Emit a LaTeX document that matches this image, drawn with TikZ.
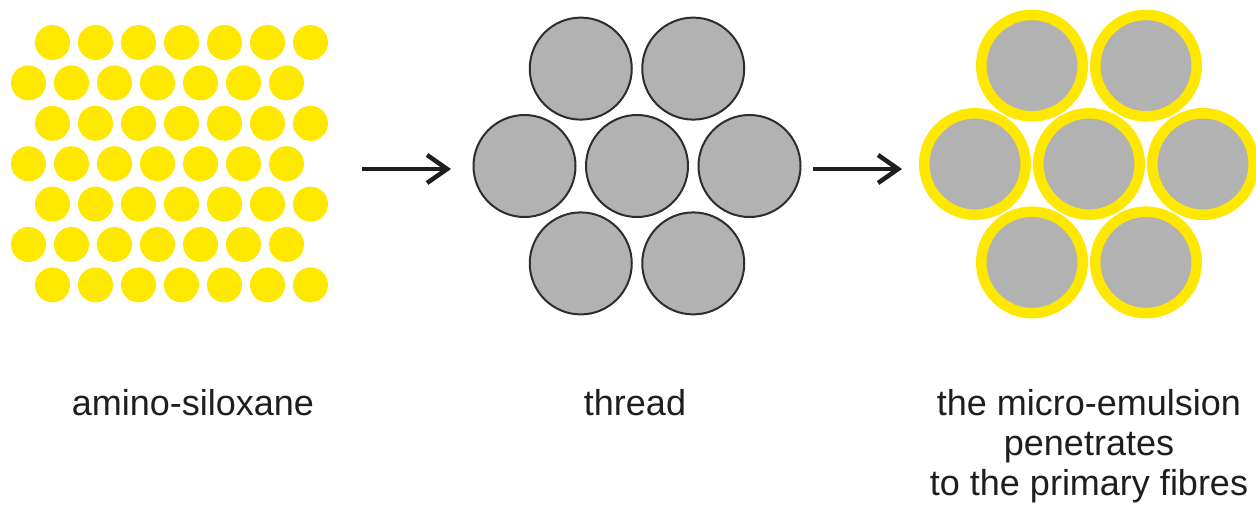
\documentclass[tikz,border=0pt]{standalone}
\usepackage{fontspec}
\setmainfont{Liberation Sans}
\usetikzlibrary{arrows.meta}
\definecolor{dotyellow}{RGB}{255,232,0}
\definecolor{fibregray}{RGB}{178,178,178}
\definecolor{rimgray}{RGB}{45,45,45}
\definecolor{inkgray}{RGB}{30,30,30}
\tikzset{
  dot/.style={circle,fill=dotyellow,inner sep=0pt,minimum size=35pt},
  fibre/.style={circle,fill=fibregray,draw=rimgray,line width=2pt,inner sep=0pt,minimum size=102pt},
  coated/.style={circle,fill=fibregray,draw=dotyellow,line width=10.5pt,inner sep=0pt,minimum size=101.5pt},
  flow/.style={draw=inkgray,line width=4.5pt,-{Straight Barb[length=20pt,width=28pt,line width=4.5pt]}},
  caption/.style={inner sep=0pt,text=inkgray,align=center,font=\fontsize{36}{40}\selectfont}
}
\begin{document}
\begin{tikzpicture}[x=1pt,y=-1pt]
\useasboundingbox (0,0) rectangle (1256,504);

% amino-siloxane droplets: seven staggered rows of seven
\foreach \r in {0,...,6}{
  \pgfmathsetmacro{\xo}{mod(\r,2)==0 ? 52.5 : 28.5}
  \foreach \c in {0,...,6}{
    \node[dot] (drop-\r-\c) at ({\xo+43*\c},{42.5+40.4*\r}) {};
  }
}

% thread: seven fibres in a hexagonal bundle
\foreach \n/\dx/\dy in {tl/-0.5/-1, tr/0.5/-1, ml/-1/0, mc/0/0, mr/1/0, bl/-0.5/1, br/0.5/1}{
  \node[fibre] (fibre-\n) at ({637+112.5*\dx},{166+97.4*\dy}) {};
}

% fibres coated with micro-emulsion
\foreach \n/\dx/\dy in {tl/-0.5/-1, tr/0.5/-1, ml/-1/0, mc/0/0, mr/1/0, bl/-0.5/1, br/0.5/1}{
  \node[coated] (coat-\n) at ({1089+114*\dx},{164+98.4*\dy}) {};
}

% process arrows
\coordinate (a1s) at (362,169);
\coordinate (a1e) at (451,169);
\coordinate (a2s) at (813,169);
\coordinate (a2e) at (902,169);
\draw[flow] (a1s) -- (a1e);
\draw[flow] (a2s) -- (a2e);

% captions
\node[caption,anchor=base] (cap-amino) at (193,415) {amino-siloxane};
\node[caption,anchor=base] (cap-thread) at (635,415) {thread};
\node[caption,anchor=north] (cap-emulsion) at (1089,389) {the micro-emulsion\\penetrates\\to the primary fibres};
\end{tikzpicture}
\end{document}
